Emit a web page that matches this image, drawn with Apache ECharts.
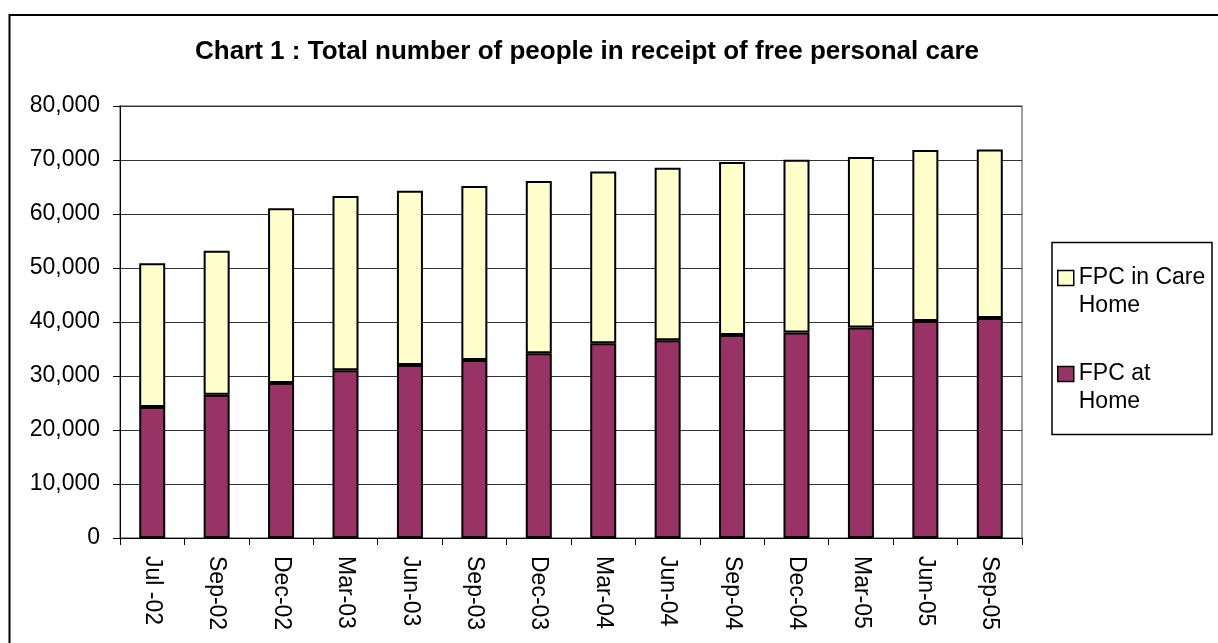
<!DOCTYPE html>
<html>
<head>
<meta charset="utf-8">
<title>Chart 1</title>
<script src="https://cdn.jsdelivr.net/npm/echarts@6/dist/echarts.min.js"></script>
<style>
  html, body { margin: 0; padding: 0; background: #fff; }
  #chart { width: 1218px; height: 643px; }
</style>
</head>
<body>
<div id="chart"></div>
<script>
  // categories (x axis)
  var categories = ['Jul -02', 'Sep-02', 'Dec-02', 'Mar-03', 'Jun-03', 'Sep-03', 'Dec-03',
    'Mar-04', 'Jun-04', 'Sep-04', 'Dec-04', 'Mar-05', 'Jun-05', 'Sep-05'];
  // FPC at Home (bottom of stack)
  var atHome = [24250, 26550, 28700, 31050, 32050, 32950, 34200, 36050, 36600, 37600, 38050, 39000, 40200, 40750];
  // FPC in Care Home (top of stack)
  var careHome = [26650, 26650, 32350, 32300, 32250, 32250, 31900, 31800, 31950, 32050, 32000, 31550, 31650, 31200];

  var font = '"Liberation Sans", Arial, sans-serif';

  var chart = echarts.init(document.getElementById('chart'));

  var option = {
    animation: false,
    textStyle: {fontFamily: font, color: '#000'},
    title: {
      text: 'Chart 1 : Total number of people in receipt of free personal care',
      left: 582,
      top: 34,
      textAlign: 'center',
      textStyle: {fontFamily: font, fontSize: 26, fontWeight: 'bold', color: '#000'}
    },
    // outer chart border + legend box
    graphic: [
      {
        type: 'rect',
        shape: {x: 9.5, y: 15, width: 1400, height: 900},
        style: {fill: 'none', stroke: '#000', lineWidth: 2},
        silent: true
      },
      {
        type: 'rect',
        shape: {x: 1052, y: 242.5, width: 160, height: 192},
        style: {fill: 'none', stroke: '#000', lineWidth: 1.5},
        silent: true
      }
    ],
    legend: {
      orient: 'vertical',
      left: 1057,
      top: 236,
      padding: 0,
      itemGap: 12,
      itemWidth: 16,
      itemHeight: 15,
      icon: 'rect',
      data: ['FPC in Care Home', 'FPC at Home'],
      itemStyle: {borderColor: '#000', borderWidth: 1.5},
      // blank first line keeps the first text line level with the icon
      formatter: function (name) {
        return name === 'FPC at Home' ? ' \nFPC at\nHome' : ' \nFPC in Care\nHome';
      },
      textStyle: {
        fontFamily: font,
        fontSize: 23,
        lineHeight: 28,
        color: '#000'
      }
    },
    grid: {
      left: 120,
      right: 196,
      top: 106,
      bottom: 105,
      show: true,
      borderColor: '#808080',
      borderWidth: 1.5
    },
    xAxis: {
      type: 'category',
      data: categories,
      axisLine: {lineStyle: {color: '#000', width: 1}},
      axisTick: {show: true, length: 7, lineStyle: {color: '#000'}},
      axisLabel: {
        rotate: -90,
        margin: 18,
        fontSize: 23,
        fontFamily: font,
        color: '#000'
      }
    },
    yAxis: {
      type: 'value',
      min: 0,
      max: 80000,
      interval: 10000,
      axisLine: {show: true, lineStyle: {color: '#000', width: 1}},
      axisTick: {show: true, length: 7, lineStyle: {color: '#000'}},
      axisLabel: {
        margin: 20,
        fontSize: 23,
        fontFamily: font,
        color: '#000',
        formatter: function (v) {
          return String(v).replace(/\B(?=(\d{3})+(?!\d))/g, ',');
        }
      },
      splitLine: {show: true, lineStyle: {color: '#333', width: 1}}
    },
    series: [
      {
        name: 'FPC at Home',
        type: 'bar',
        stack: 'total',
        barWidth: 26,
        itemStyle: {color: '#993366', borderColor: '#000', borderWidth: 2},
        data: atHome
      },
      {
        name: 'FPC in Care Home',
        type: 'bar',
        stack: 'total',
        barWidth: 26,
        itemStyle: {color: '#FFFFCC', borderColor: '#000', borderWidth: 2},
        data: careHome
      }
    ]
  };

  chart.setOption(option);
</script>
</body>
</html>
